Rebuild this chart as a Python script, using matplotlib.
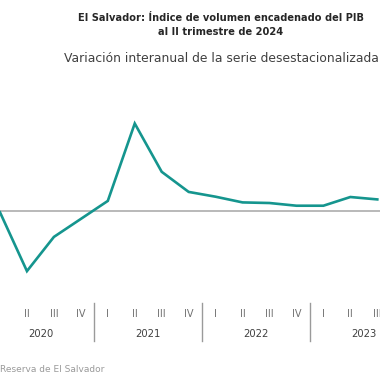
import matplotlib
matplotlib.use('Agg')
import matplotlib.pyplot as plt
import matplotlib.transforms as mtransforms

# quarterly year-on-year variation (%), 2020-I .. 2023-III
quarters = ['I', 'II', 'III', 'IV'] * 4
quarters = quarters[:15]
years = ['2020', '2021', '2022', '2023']
variacion = [-0.5, -20.1, -8.7, -2.7,
             3.3, 29.1, 13.0, 6.3,
             4.7, 2.8, 2.6, 1.7,
             1.7, 4.6, 3.8]

teal = '#15958e'
x = list(range(len(variacion)))

fig = plt.figure(figsize=(3.8, 3.8), dpi=100)
ax = fig.add_axes([0, 0.2368, 1, 0.4737])

ax.axhline(0, color='#a6a6a6', lw=1.1, zorder=1)
ax.plot(x, variacion, color=teal, lw=1.9, zorder=2, solid_joinstyle='miter')
ax.set_xlim(0, 14.1)
ax.set_ylim(-26.4, 33.6)
ax.axis('off')

# x axis labels: quarters, years and separators
trans = mtransforms.blended_transform_factory(ax.transData, fig.transFigure)
for i, q in enumerate(quarters):
    if i == 0:
        continue
    ax.text(i, 1 - 314 / 380, q, transform=trans, ha='center', va='center',
            fontsize=7, color='#707070', clip_on=False)
for k, yr in enumerate(years):
    ax.text(4 * k + 1.5, 1 - 334 / 380, yr, transform=trans, ha='center',
            va='center', fontsize=7.2, color='#404040', clip_on=False)
    if k > 0:
        ax.plot([4 * k - 0.5] * 2, [1 - 303 / 380, 1 - 341 / 380],
                transform=trans, color='#9a9a9a', lw=1, clip_on=False)

fig.text(221 / 380, 1 - 18 / 380, 'El Salvador: Índice de volumen encadenado del PIB',
         ha='center', va='center', fontsize=7.1, fontweight='bold', color='#262626')
fig.text(221 / 380, 1 - 32 / 380, 'al II trimestre de 2024',
         ha='center', va='center', fontsize=7.1, fontweight='bold', color='#262626')
fig.text(221.5 / 380, 1 - 58 / 380, 'Variación interanual de la serie desestacionalizada',
         ha='center', va='center', fontsize=8.9, color='#404040')
fig.text(0, 1 - 370 / 380, 'Reserva de El Salvador',
         ha='left', va='center', fontsize=6.5, color='#9a9a9a')

fig.savefig('out.png', dpi=100, facecolor='white')
